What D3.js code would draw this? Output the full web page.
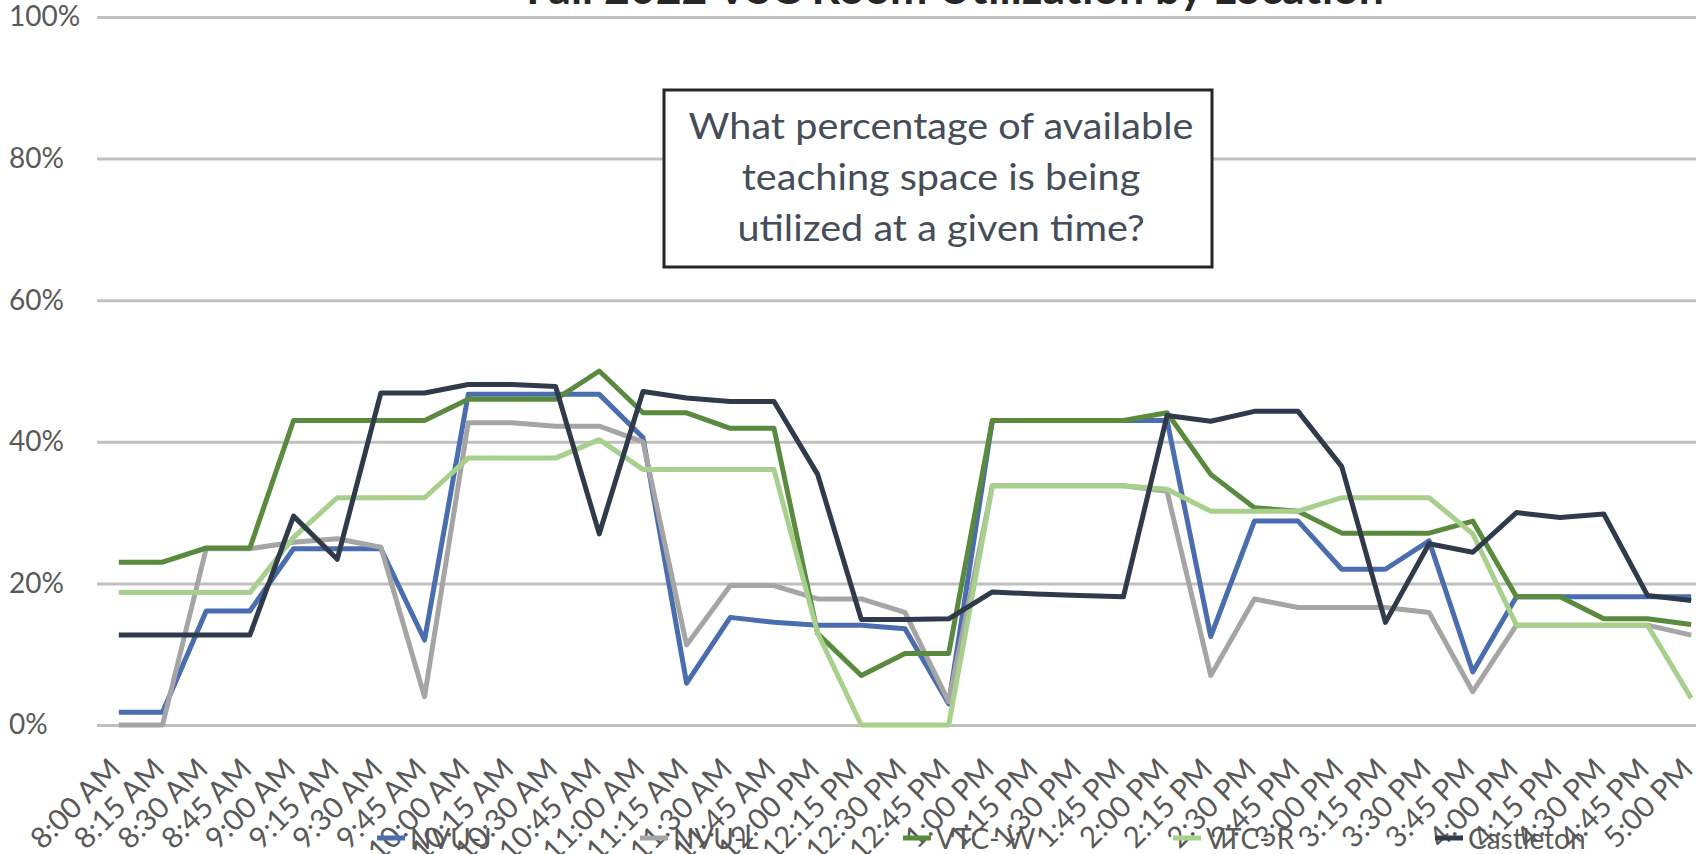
<!DOCTYPE html>
<html>
<head>
<meta charset="utf-8">
<script src="https://cdn.jsdelivr.net/npm/d3@7"></script>
<style>
  html, body { margin: 0; padding: 0; background: #ffffff; }
  svg { display: block; font-family: Lato, "Open Sans", sans-serif; }
</style>
</head>
<body>
<svg id="chart" width="1696" height="854"></svg>
<script>
// ---------------- data ----------------
const times = ["8:00 AM","8:15 AM","8:30 AM","8:45 AM","9:00 AM","9:15 AM","9:30 AM","9:45 AM",
  "10:00 AM","10:15 AM","10:30 AM","10:45 AM","11:00 AM","11:15 AM","11:30 AM","11:45 AM",
  "12:00 PM","12:15 PM","12:30 PM","12:45 PM","1:00 PM","1:15 PM","1:30 PM","1:45 PM",
  "2:00 PM","2:15 PM","2:30 PM","2:45 PM","3:00 PM","3:15 PM","3:30 PM","3:45 PM",
  "4:00 PM","4:15 PM","4:30 PM","4:45 PM","5:00 PM"];

const seriesNames = ["NVU-J", "NVU-L", "VTC- W", "VTC- R", "Castleton"];

const nvuJ = [1.8,1.8,16.1,16.1,24.9,24.9,24.9,12.0,46.7,46.7,46.7,46.7,40.6,5.9,15.2,14.5,
  14.1,14.1,13.6,3.0,43.0,43.0,43.0,43.0,43.0,12.5,28.8,28.8,22.0,22.0,26.0,7.5,
  18.1,18.1,18.1,18.1,18.1];
const nvuL = [0,0,24.9,24.9,25.8,26.3,25.1,4.0,42.7,42.7,42.2,42.2,40.0,11.3,19.7,19.7,
  17.8,17.8,15.9,3.3,33.8,33.8,33.8,33.8,33.0,7.0,17.8,16.6,16.6,16.6,15.9,4.7,
  14.1,14.1,14.1,14.1,12.7];
const vtcW = [23.0,23.0,25.0,25.0,43.0,43.0,43.0,43.0,46.0,46.0,46.0,50.0,44.1,44.1,41.9,41.9,
  12.9,7.0,10.1,10.1,43.0,43.0,43.0,43.0,44.1,35.4,30.7,30.2,27.1,27.1,27.1,28.8,
  18.1,18.1,15.0,15.0,14.2];
const vtcR = [18.7,18.7,18.7,18.7,26.5,32.1,32.1,32.1,37.7,37.7,37.7,40.3,36.1,36.1,36.1,36.1,
  13.0,0,0,0,33.8,33.8,33.8,33.8,33.3,30.2,30.2,30.2,32.1,32.1,32.1,27.0,
  14.1,14.1,14.1,14.1,3.8];
const castleton = [12.7,12.7,12.7,12.7,29.5,23.4,46.9,46.9,48.1,48.1,47.8,27.0,47.1,46.2,45.7,45.7,
  35.4,14.9,14.9,15.0,18.8,18.5,18.3,18.1,43.7,42.9,44.3,44.3,36.5,14.5,25.6,24.4,
  30.0,29.3,29.8,18.3,17.6];

const yTicks = [0, 20, 40, 60, 80, 100];
const titleText = "Fall 2022 VSC Room Utilization by Location";
const noteLines = ["What percentage of available", "teaching space is being", "utilized at a given time?"];

// ---------------- styling ----------------
const colors = ["#4a6db0", "#a5a5a5", "#5a8a3e", "#a8d08d", "#2f3a4b"];
const seriesValues = [nvuJ, nvuL, vtcW, vtcR, castleton];

const W = 1696, H = 854;
const plot = { left: 97, right: 1713, top: 17, bottom: 725 };

const svg = d3.select("#chart");

const x = d3.scalePoint().domain(times).range([plot.left, plot.right]).padding(0.5);
const y = d3.scaleLinear().domain([0, 100]).range([plot.bottom, plot.top]);

// gridlines + y labels
const gy = svg.append("g").attr("transform", `translate(${plot.left},0)`)
  .call(d3.axisLeft(y).tickValues(yTicks).tickFormat(d => d + "%")
    .tickSize(-(plot.right - plot.left)).tickPadding(0));
gy.select(".domain").remove();
gy.selectAll(".tick line").attr("stroke", "#bfbfbf").attr("stroke-width", 3);
gy.selectAll(".tick text")
  .attr("x", 9 - plot.left).attr("text-anchor", "start")
  .attr("fill", "#595959").style("font-size", "28px").style("font-family", "Lato");

// x labels
const gx = svg.append("g").attr("transform", `translate(0,${plot.bottom})`)
  .call(d3.axisBottom(x).tickSize(0).tickPadding(0));
gx.select(".domain").remove();
gx.selectAll(".tick text")
  .attr("text-anchor", "end")
  .attr("dy", 0).attr("y", 0)
  .attr("transform", "translate(3,46) rotate(-45)")
  .attr("fill", "#595959").style("font-size", "29.5px").style("font-family", "Lato");

// series lines
const line = d3.line().x((d, i) => x(times[i])).y(d => y(d));
seriesValues.forEach((vals, k) => {
  svg.append("path").datum(vals)
    .attr("d", line)
    .attr("fill", "none")
    .attr("stroke", colors[k])
    .attr("stroke-width", 5)
    .attr("stroke-linejoin", "round")
    .attr("stroke-linecap", "butt");
});

// title (cut off at top)
const title = svg.append("text")
  .attr("x", 955).attr("y", 4)
  .attr("text-anchor", "middle")
  .attr("fill", "#262626")
  .style("font-weight", "bold").style("font-size", "40px").style("font-family", "Lato")
  .text(titleText);
const tw = title.node().getComputedTextLength();
title.style("font-size", (40 * 858 / tw) + "px");

// annotation box
svg.append("rect")
  .attr("x", 664).attr("y", 90).attr("width", 548).attr("height", 177)
  .attr("fill", "#ffffff").attr("stroke", "#262626").attr("stroke-width", 3);
const noteG = svg.append("g");
const noteInner = noteG.append("g");
noteInner.selectAll("text").data(noteLines).join("text")
  .attr("x", 0).attr("y", (d, i) => i * 51)
  .attr("text-anchor", "middle")
  .attr("fill", "#454d5a")
  .style("font-size", "36px").style("font-family", "Lato")
  .text(d => d);
const w1 = noteInner.select("text").node().getComputedTextLength();
const sx = 505 / w1;
noteG.attr("transform", `translate(941,139) scale(${sx},1)`);

// legend
const legendX = [377, 640, 903, 1173, 1435];
const lg = svg.append("g").selectAll("g").data(seriesNames).join("g")
  .attr("transform", (d, i) => `translate(${legendX[i]},838)`);
lg.append("line").attr("x1", 0).attr("x2", 28).attr("y1", 0).attr("y2", 0)
  .attr("stroke", (d, i) => colors[i]).attr("stroke-width", 5);
lg.append("text").attr("x", 33).attr("y", 11)
  .attr("fill", "#595959").style("font-size", "28px").style("font-family", "Lato")
  .text(d => d);
</script>
</body>
</html>
